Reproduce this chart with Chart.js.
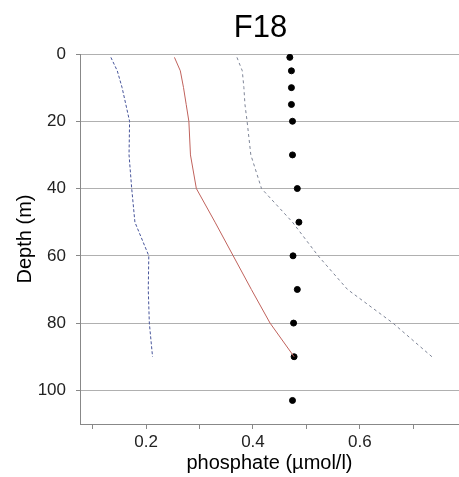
<!DOCTYPE html>
<html>
<head>
<meta charset="utf-8">
<script src="https://cdn.jsdelivr.net/npm/chart.js@4/dist/chart.umd.min.js"></script>
<style>
  body { margin: 0; background: #fff; }
  canvas { display: block; }
</style>
</head>
<body>
<canvas id="myChart" width="459" height="477"></canvas>
<script>
// depths (m) for the profile lines and for the measured dots
const lineDepths = [1, 5, 10, 15, 20, 30, 40, 50, 60, 70, 80, 90]
const dotDepths = [1, 5, 10, 15, 20, 30, 40, 50, 60, 70, 80, 90, 103]

// phosphate values (umol/l)
const dotValues = [0.469, 0.472, 0.472, 0.472, 0.474, 0.474, 0.483, 0.486, 0.475, 0.483, 0.476, 0.477, 0.474]
const redValues = [0.253, 0.264, 0.270, 0.275, 0.280, 0.283, 0.294, 0.329, 0.363, 0.397, 0.432, 0.477]
const blueValues = [0.134, 0.146, 0.155, 0.162, 0.169, 0.168, 0.173, 0.179, 0.205, 0.204, 0.206, 0.212]
const greyValues = [0.370, 0.380, 0.383, 0.385, 0.389, 0.396, 0.416, 0.474, 0.522, 0.577, 0.662, 0.735]

// axis ticks
const depthTicks = [0, 20, 40, 60, 80, 100]
const phosTicks = [0.1, 0.2, 0.3, 0.4, 0.5, 0.6, 0.7]
const phosTickLabels = ['', '0.2', '', '0.4', '', '0.6', '']

const toPoints = (xs, ys) => xs.map((v, i) => ({ x: v, y: ys[i] }))

const fontFamily = '"Liberation Sans", Arial, sans-serif'
const ctx = document.getElementById('myChart')

// title sits a bit left of the plot centre in the original, so draw it by hand
const titlePlugin = {
    id: 'stationTitle',
    afterDraw: (chart) => {
        const c = chart.ctx
        c.save()
        c.font = '31px ' + fontFamily
        c.fillStyle = '#000'
        c.textAlign = 'center'
        c.textBaseline = 'middle'
        c.fillText('F18', 260.5, 28)
        c.restore()
    }
}

let myChart = new Chart(ctx, {
    type: 'scatter',
    data: {
        datasets: [
            {
                label: 'blue',
                data: toPoints(blueValues, lineDepths),
                showLine: true,
                borderColor: '#46549a',
                borderWidth: 1,
                borderDash: [3, 2],
                pointRadius: 0
            },
            {
                label: 'red',
                data: toPoints(redValues, lineDepths),
                showLine: true,
                borderColor: '#c0625c',
                borderWidth: 1,
                pointRadius: 0
            },
            {
                label: 'grey',
                data: toPoints(greyValues, lineDepths),
                showLine: true,
                borderColor: '#7d8496',
                borderWidth: 1,
                borderDash: [3, 3],
                pointRadius: 0
            },
            {
                label: 'dots',
                data: toPoints(dotValues, dotDepths),
                backgroundColor: '#000',
                borderColor: '#000',
                pointRadius: 3
            }
        ]
    },
    options: {
        responsive: false,
        animation: false,
        layout: { autoPadding: false, padding: { top: 54, left: 0, right: 0, bottom: 0 } },
        plugins: {
            legend: { display: false },
            tooltip: { enabled: false },
            title: { display: false }
        },
        scales: {
            x: {
                type: 'linear',
                min: 0.0762,
                max: 0.7857,
                afterBuildTicks: (scale) => {
                    scale.ticks = phosTicks.map(v => ({ value: v }))
                },
                afterFit: (scale) => {
                    scale.height = 53
                    scale.paddingLeft = 0
                    scale.paddingRight = 0
                },
                ticks: {
                    color: '#222',
                    padding: 3,
                    maxRotation: 0,
                    autoSkip: false,
                    font: { family: fontFamily, size: 17 },
                    callback: (value, index) => phosTickLabels[index]
                },
                grid: {
                    drawOnChartArea: false,
                    drawTicks: true,
                    tickLength: 5,
                    color: '#888'
                },
                border: { display: true, color: '#888' },
                title: {
                    display: true,
                    text: 'phosphate (µmol/l)',
                    color: '#000',
                    font: { family: fontFamily, size: 20 },
                    padding: { top: 0, bottom: 2 }
                }
            },
            y: {
                type: 'linear',
                reverse: true,
                min: 0,
                max: 110,
                afterBuildTicks: (scale) => {
                    scale.ticks = depthTicks.map(v => ({ value: v }))
                },
                afterFit: (scale) => {
                    scale.width = 80
                    scale.paddingTop = 0
                    scale.paddingBottom = 0
                },
                ticks: {
                    color: '#222',
                    padding: 10,
                    font: { family: fontFamily, size: 17 },
                    callback: (value) => String(value)
                },
                grid: {
                    color: '#b0b0b0',
                    tickColor: '#888',
                    tickLength: 4
                },
                border: { display: true, color: '#888' },
                title: {
                    display: true,
                    text: 'Depth (m)',
                    color: '#000',
                    font: { family: fontFamily, size: 20 },
                    padding: { top: 13, bottom: 0 }
                }
            }
        }
    },
    plugins: [titlePlugin]
});
</script>
</body>
</html>
